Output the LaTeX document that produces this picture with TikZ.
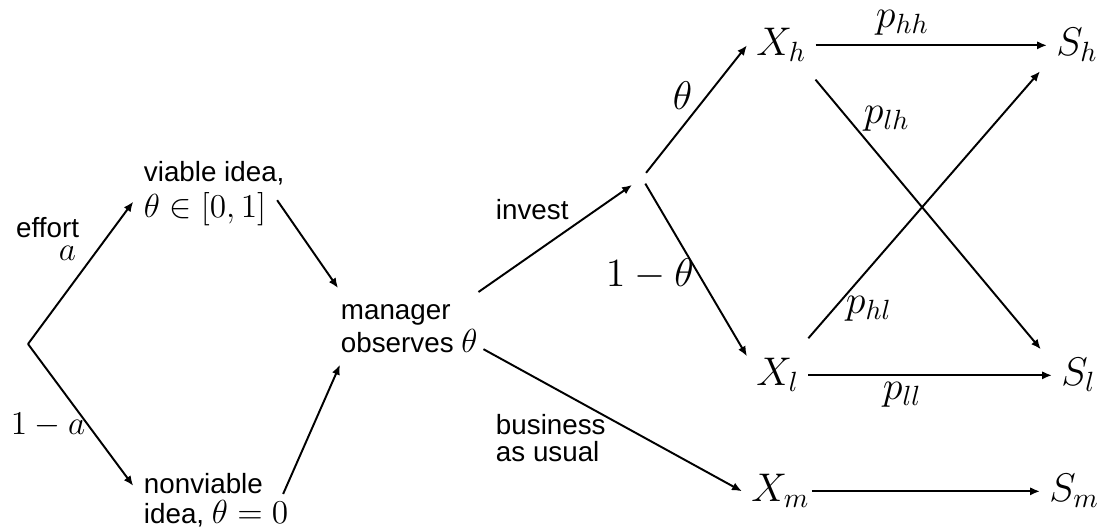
\documentclass[tikz,border=0pt]{standalone}
\usepackage{fontspec}
\setmainfont{Liberation Sans}
\usetikzlibrary{arrows.meta}

\begin{document}
\begin{tikzpicture}[x=0.36pt, y=-0.36pt, line width=0.7pt,
    >={Latex[length=3.6pt,width=3pt]},
    txt/.style={font=\fontsize{10}{11}\selectfont, align=left, inner sep=0pt},
    sm/.style={font=\large, inner sep=0pt},
    state/.style={font=\Large, inner sep=3pt},
    prob/.style={font=\Large, inner sep=0pt}]
  \useasboundingbox (0,0) rectangle (1104,527);

  %--- first stage: effort
  \coordinate (root) at (28,344);
  \node[txt, anchor=north west] (viable) at (143,160) {viable idea,\\[2pt]{\large$\theta\in[0,1]$}};
  \node[txt, anchor=north west] (nonviable) at (143,472) {nonviable\\idea, {\large$\theta=0$}};
  \node[txt, anchor=north east] (effort) at (80,216) {effort};
  \node[sm, anchor=base east] (a) at (77,261) {$a$};
  \node[sm, anchor=base west] (oneminusa) at (10,435) {$1-a$};

  \draw[->] (root) -- ([xshift=-3.5pt,yshift=-3pt]viable.west);
  \draw[->] (root) -- ([xshift=-3.5pt,yshift=-5pt]nonviable.north west);

  %--- manager
  \node[txt, anchor=north west, inner ysep=4pt] (manager) at (340,292) {manager\\[1pt]observes {\large$\theta$}};
  \draw[->] ([xshift=-3pt,yshift=-2.5pt]viable.east) -- ([xshift=-0.7pt,yshift=1.4pt]manager.north west);
  \draw[->] ([xshift=-2.2pt,yshift=2.2pt]nonviable.east) -- (manager.south west);

  \node[txt, anchor=base west] (invest) at (495,220) {invest};
  \node[txt, anchor=north west] (business) at (495,413) {business\\[-1pt]as usual};

  %--- outcomes
  \node[circle, inner sep=0pt, minimum size=4pt] (branch) at (642,178) {};
  \node[state, anchor=base west] (Xh) at (747,56) {$X_h$};
  \node[state, anchor=base west] (Xl) at (747,386) {$X_l$};
  \node[state, anchor=base west] (Xm) at (742,502) {$X_m$};
  \node[state, anchor=base west] (Sh) at (1047,56) {$S_h$};
  \node[state, anchor=base west] (Sl) at (1052,386) {$S_l$};
  \node[state, anchor=base west] (Sm) at (1040,502) {$S_m$};

  \draw[->, shorten >=2pt] (manager.north east) -- (branch);
  \draw[->] ([shift={(1.8pt,-7.5pt)}]manager.east) -- (Xm.west);
  \draw[->] (branch) -- (Xh.west);
  \draw[->] (branch) -- ([yshift=-2.5pt]Xl.north west);

  \node[prob, anchor=base west] (theta) at (672,110) {$\theta$};
  \node[prob, anchor=base west] (oneminustheta) at (605,287) {$1-\theta$};

  %--- signals
  \draw[->] (Xh) -- (Sh);
  \draw[->] (Xl) -- (Sl);
  \draw[->] ([xshift=-2.5pt]Xm.east) -- (Sm);
  \draw[->] ([yshift=-3pt]Xh.south east) -- ([xshift=-4pt]Sl.north west);
  \draw[->] ([yshift=4pt]Xl.north east) -- ([xshift=-2.5pt]Sh.south west);

  \node[prob, anchor=base west] (phh) at (875,28) {$p_{hh}$};
  \node[prob, anchor=base west] (plh) at (863,124) {$p_{lh}$};
  \node[prob, anchor=base west] (phl) at (845,314) {$p_{hl}$};
  \node[prob, anchor=base west] (pll) at (882,400) {$p_{ll}$};
\end{tikzpicture}
\end{document}
